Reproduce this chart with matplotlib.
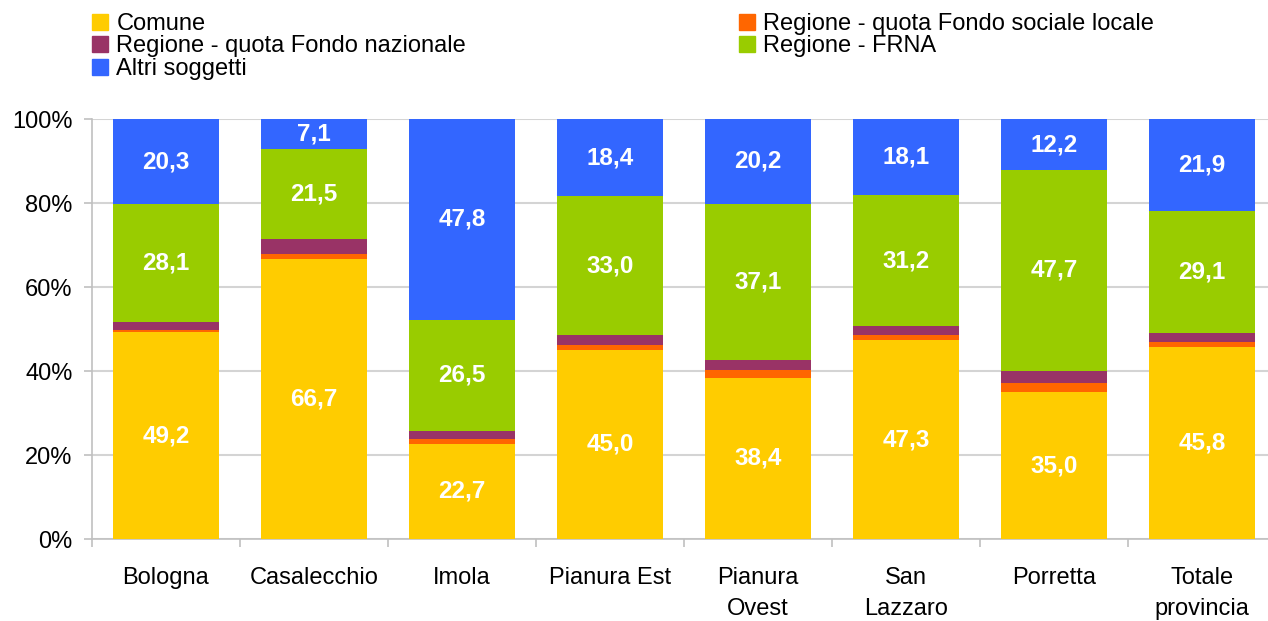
import matplotlib.pyplot as plt
import numpy as np
from matplotlib.patches import Patch

plt.rcParams['font.family'] = ['Liberation Sans', 'DejaVu Sans']

# Data (percent shares per zone)
zones = ['Bologna', 'Casalecchio', 'Imola', 'Pianura Est', 'Pianura\nOvest',
         'San\nLazzaro', 'Porretta', 'Totale\nprovincia']
comune = [49.2, 66.7, 22.7, 45.0, 38.4, 47.3, 35.0, 45.8]
fondo_sociale = [0.6, 1.1, 1.2, 1.2, 1.9, 1.3, 2.1, 1.1]
fondo_nazionale = [1.8, 3.6, 1.8, 2.4, 2.4, 2.1, 3.0, 2.1]
frna = [28.1, 21.5, 26.5, 33.0, 37.1, 31.2, 47.7, 29.1]
altri = [20.3, 7.1, 47.8, 18.4, 20.2, 18.1, 12.2, 21.9]

series = [
    ('Comune', comune, '#FFCC00', True),
    ('Regione - quota Fondo sociale locale', fondo_sociale, '#FF6600', False),
    ('Regione - quota Fondo nazionale', fondo_nazionale, '#993366', False),
    ('Regione - FRNA', frna, '#99CC00', True),
    ('Altri soggetti', altri, '#3366FF', True),
]

fig = plt.figure(figsize=(12.68, 6.21), dpi=100)
ax = fig.add_axes([92 / 1268, 82 / 621, 1 - 92 / 1268, 420 / 621])

x = np.arange(len(zones))
bottom = np.zeros(len(zones))
handles = {}
for name, vals, color, show in series:
    vals = np.array(vals)
    ax.bar(x, vals, 0.716, bottom=bottom, color=color, zorder=3)
    handles[name] = Patch(color=color, label=name)
    if show:
        for xi, b, v in zip(x, bottom, vals):
            ax.text(xi, b + v / 2, f'{v:.1f}'.replace('.', ','), ha='center', va='center',
                    color='white', fontsize=17.5, fontweight='bold', zorder=4)
    bottom += vals

ax.set_xlim(-0.5, 7.446)
ax.set_ylim(0, 100)
ax.set_yticks(range(0, 101, 20))
ax.set_yticklabels([f'{v}%' for v in range(0, 101, 20)])
ax.yaxis.grid(True, color='#d4d4d4', linewidth=1.5, zorder=0)
ax.set_xticks(x)
ax.set_xticklabels(zones, linespacing=1.56)
ax.set_xticks(np.arange(-0.5, 7, 1), minor=True)
ax.tick_params(axis='x', which='major', length=0, pad=20, labelsize=17)
ax.tick_params(axis='x', which='minor', length=6, color='#c0c0c0', width=1.2)
ax.tick_params(axis='y', length=6, color='#c0c0c0', width=1.2, pad=8, labelsize=17)
for s in ['top', 'right']:
    ax.spines[s].set_visible(False)
for s in ['left', 'bottom']:
    ax.spines[s].set_color('#c0c0c0')
    ax.spines[s].set_linewidth(1.2)

leg_kw = dict(frameon=False, fontsize=17, handlelength=0.68, handleheight=0.68,
              handletextpad=0.35, labelspacing=0.02, borderpad=0, borderaxespad=0,
              loc='upper left')
fig.legend(handles=[handles['Comune'], handles['Regione - quota Fondo nazionale'],
                    handles['Altri soggetti']],
           bbox_to_anchor=(92 / 1268, 1 - 13 / 621), **leg_kw)
fig.legend(handles=[handles['Regione - quota Fondo sociale locale'],
                    handles['Regione - FRNA']],
           bbox_to_anchor=(739 / 1268, 1 - 13 / 621), **leg_kw)

fig.savefig('out.png', dpi=100)
